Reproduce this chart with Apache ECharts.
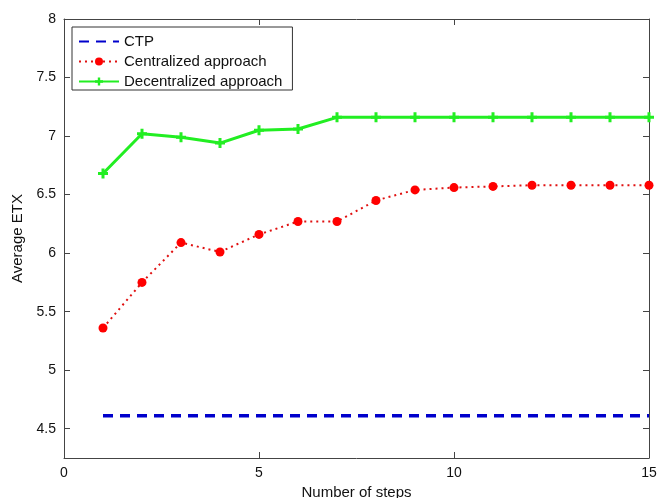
<!DOCTYPE html>
<html>
<head>
<meta charset="utf-8">
<script src="https://cdn.jsdelivr.net/npm/echarts@6/dist/echarts.min.js"></script>
<style>
  html, body { margin: 0; padding: 0; background: #fff; }
  #main { width: 662px; height: 498px; }
</style>
</head>
<body>
<div id="main"></div>
<script>
var steps = [1, 2, 3, 4, 5, 6, 7, 8, 9, 10, 11, 12, 13, 14, 15];
var ctp = [4.61, 4.61, 4.61, 4.61, 4.61, 4.61, 4.61, 4.61, 4.61, 4.61, 4.61, 4.61, 4.61, 4.61, 4.61];
var centralized = [5.36, 5.75, 6.09, 6.01, 6.16, 6.27, 6.27, 6.45, 6.54, 6.56, 6.57, 6.58, 6.58, 6.58, 6.58];
var decentralized = [6.68, 7.02, 6.99, 6.94, 7.05, 7.06, 7.16, 7.16, 7.16, 7.16, 7.16, 7.16, 7.16, 7.16, 7.16];
var yTicks = [4.5, 5, 5.5, 6, 6.5, 7, 7.5, 8];

function pairs(vals) {
    return steps.map(function (s, i) { return [s, vals[i]]; });
}

var myChart = echarts.init(document.getElementById('main'));
var font = 'Liberation Sans, Arial, sans-serif';
var axisCol = '#444';
var plus = 'path://M3.5,0H6.5V3.5H10V6.5H6.5V10H3.5V6.5H0V3.5H3.5Z';

var option = {
    animation: false,
    backgroundColor: '#fff',
    textStyle: { fontFamily: font },
    grid: { left: 64, right: 13, top: 19, bottom: 40, outerBoundsMode: 'none' },
    legend: {
        orient: 'vertical',
        left: 72,
        top: 27,
        padding: [7, 10, 1, 6],
        itemGap: 5,
        itemWidth: 40,
        itemHeight: 10,
        borderColor: '#333',
        borderWidth: 1,
        backgroundColor: '#fff',
        textStyle: { fontSize: 15, color: '#111', fontFamily: font, lineHeight: 15 },
        data: [
            { name: 'CTP', itemStyle: { opacity: 0 } },
            'Centralized approach',
            'Decentralized approach'
        ]
    },
    xAxis: [{
        type: 'value',
        min: 0, max: 15, interval: 5,
        name: 'Number of steps',
        nameLocation: 'middle',
        nameGap: 25,
        nameTextStyle: { fontSize: 15, color: '#111' },
        axisLine: { onZero: false, lineStyle: { color: axisCol } },
        axisTick: { inside: true, length: 6, lineStyle: { color: axisCol } },
        axisLabel: { fontSize: 14, color: '#111', margin: 8 },
        splitLine: { show: false }
    }, {
        type: 'value',
        position: 'top',
        min: 0, max: 15, interval: 5,
        axisLine: { onZero: false, lineStyle: { color: axisCol } },
        axisTick: { inside: true, length: 6, lineStyle: { color: axisCol } },
        axisLabel: { show: false },
        splitLine: { show: false }
    }],
    yAxis: [{
        type: 'value',
        position: 'left',
        min: 4.25, max: 8,
        name: 'Average ETX',
        nameLocation: 'middle',
        nameGap: 38,
        nameTextStyle: { fontSize: 15, color: '#111' },
        axisLine: { show: true, onZero: false, lineStyle: { color: axisCol } },
        axisTick: { show: true, inside: true, length: 6, customValues: yTicks, lineStyle: { color: axisCol } },
        axisLabel: { fontSize: 14, color: '#111', margin: 8, customValues: yTicks },
        splitLine: { show: false }
    }, {
        type: 'value',
        position: 'right',
        min: 4.25, max: 8,
        axisLine: { show: true, onZero: false, lineStyle: { color: axisCol } },
        axisTick: { show: true, inside: true, length: 6, customValues: yTicks, lineStyle: { color: axisCol } },
        axisLabel: { show: false, customValues: yTicks },
        splitLine: { show: false }
    }],
    series: [{
        name: 'CTP',
        type: 'line',
        data: pairs(ctp),
        showSymbol: false,
        symbol: 'none',
        lineStyle: { color: '#0000cc', width: 3.5, type: [10, 7] },
        itemStyle: { color: '#0000cc' }
    }, {
        name: 'Centralized approach',
        type: 'line',
        data: pairs(centralized),
        symbol: 'circle',
        symbolSize: 9,
        lineStyle: { color: '#e01010', width: 2, type: [2, 4] },
        itemStyle: { color: '#ff0000' }
    }, {
        name: 'Decentralized approach',
        type: 'line',
        data: pairs(decentralized),
        symbol: plus,
        symbolSize: 10,
        lineStyle: { color: '#22ee22', width: 3 },
        itemStyle: { color: '#22ee22' }
    }]
};

myChart.setOption(option);
</script>
</body>
</html>
